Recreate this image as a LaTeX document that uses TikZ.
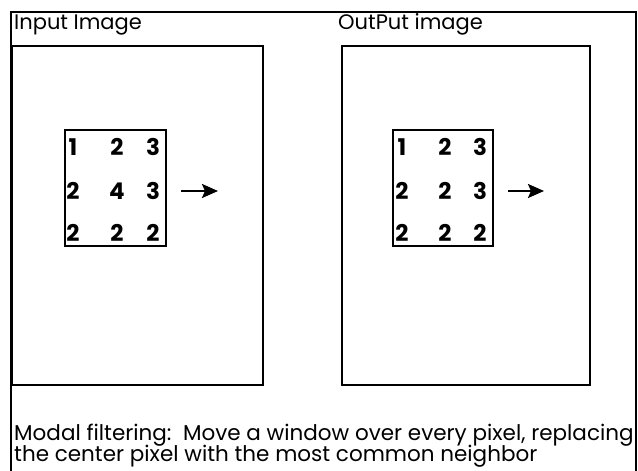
\documentclass[tikz,border=0pt]{standalone}
\usepackage{fontspec}
\setmainfont{Poppins}
\usetikzlibrary{arrows.meta}
\begin{document}
\begin{tikzpicture}[x=1pt,y=-1pt,
  frame/.style={line width=1.6pt},
  box/.style={line width=1.8pt},
  title/.style={anchor=base west,inner sep=0pt,font=\fontsize{21}{23}\selectfont},
  digit/.style={anchor=center,inner sep=0pt,font=\fontsize{23}{25}\selectfont\bfseries},
  caption/.style={anchor=base west,inner sep=0pt,font=\fontsize{21.5}{21}\selectfont},
  arr/.style={line width=2.2pt,-{Stealth[length=16pt,width=14pt,inset=3pt]}}]
\useasboundingbox (0,0) rectangle (638,471);
% outer frame
\draw[frame] (11,471) -- (11,12) -- (636,12) -- (636,471);
% titles
\node[title] (tin) at (14,30) {Input Image};
\node[title] (tout) at (338,30) {OutPut image};
% image panels
\draw[box] (12,46) rectangle (263,385);
\draw[box] (342,46) rectangle (590,385);
% windows
\draw[box] (65,130) rectangle (166,246);
\draw[box] (393,130) rectangle (493,246);
% left digits
\node[digit] (a11) at (73,147) {1};
\node[digit] (a12) at (117,147) {2};
\node[digit] (a13) at (153,147) {3};
\node[digit] (a21) at (73,191) {2};
\node[digit] (a22) at (117,191) {4};
\node[digit] (a23) at (153,191) {3};
\node[digit] (a31) at (73,233) {2};
\node[digit] (a32) at (117,233) {2};
\node[digit] (a33) at (153,233) {2};
% right digits
\node[digit] (b11) at (402,147) {1};
\node[digit] (b12) at (445,147) {2};
\node[digit] (b13) at (480,147) {3};
\node[digit] (b21) at (402,191) {2};
\node[digit] (b22) at (445,191) {2};
\node[digit] (b23) at (480,191) {3};
\node[digit] (b31) at (402,233) {2};
\node[digit] (b32) at (445,233) {2};
\node[digit] (b33) at (480,233) {2};
% arrows
\coordinate (la1) at (181,191);
\coordinate (la2) at (218,191);
\coordinate (ra1) at (508,191);
\coordinate (ra2) at (544,191);
\draw[arr] (la1) -- (la2);
\draw[arr] (ra1) -- (ra2);
% caption
\node[caption] (cap1) at (14,440) {Modal filtering:\ \ Move a window over every pixel, replacing};
\node[caption] (cap2) at (14,461) {the center pixel with the most common neighbor};
\end{tikzpicture}
\end{document}
